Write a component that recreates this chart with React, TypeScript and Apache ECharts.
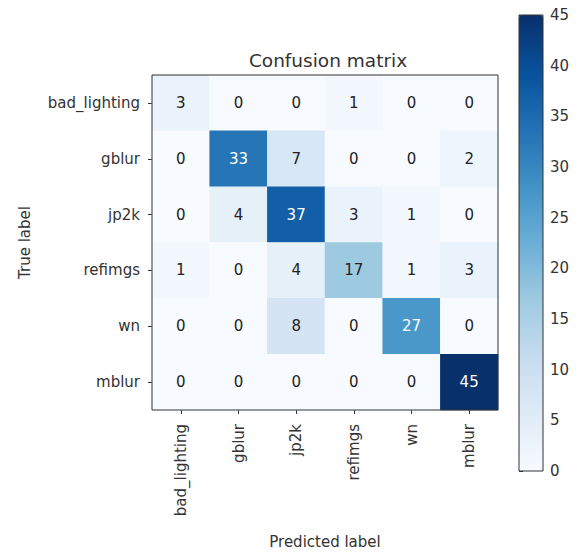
import React, { useEffect, useRef } from "react";
import * as echarts from "echarts";

const classes = ["bad_lighting", "gblur", "jp2k", "refimgs", "wn", "mblur"];
const matrix: number[][] = [
  [3, 0, 0, 1, 0, 0],
  [0, 33, 7, 0, 0, 2],
  [0, 4, 37, 3, 1, 0],
  [1, 0, 4, 17, 1, 3],
  [0, 0, 8, 0, 27, 0],
  [0, 0, 0, 0, 0, 45],
];
const colorbarMin = 0;
const colorbarMax = 45;
const colorbarStep = 5;
const blues = ["#f7fbff", "#deebf7", "#c6dbef", "#9ecae1", "#6baed6", "#4292c6", "#2171b5", "#08519c", "#08306b"];

const FONT = "DejaVu Sans";
const FS = 15;
const TXT = "#333333";

export default function App() {
  const ref = useRef<HTMLDivElement>(null);
  useEffect(() => {
    document.body.style.margin = "0";
    const chart = echarts.init(ref.current!, undefined, { renderer: "svg" });
    const thresh = Math.max(...matrix.flat()) / 2;
    const data: any[] = [];
    matrix.forEach((row, i) =>
      row.forEach((v, j) => {
        data.push({ value: [j, i, v], label: { color: v > thresh ? "#ffffff" : "#222222" } });
      })
    );
    chart.setOption({
      animation: false,
      backgroundColor: "#ffffff",
      textStyle: { fontFamily: FONT },
      title: {
        text: "Confusion matrix",
        left: 323,
        top: 46,
        textAlign: "center",
        textStyle: { fontFamily: FONT, fontSize: 18.5, fontWeight: "normal", color: TXT },
      },
      grid: [
        { left: 152, top: 75, width: 346, height: 346, show: true, borderColor: "#333", borderWidth: 1, backgroundColor: "transparent", z: 10 },
        { left: 519, top: 15, width: 24, height: 456, show: true, borderColor: "#333", borderWidth: 1, backgroundColor: "transparent", z: 10 },
      ],
      xAxis: [
        {
          type: "category",
          gridIndex: 0,
          data: classes,
          position: "bottom",
          name: "Predicted label",
          nameLocation: "middle",
          nameGap: 124,
          nameTextStyle: { fontFamily: FONT, fontSize: FS, color: TXT },
          axisLine: { show: false },
          axisTick: { show: true, alignWithLabel: true, length: 4, lineStyle: { color: "#333" } },
          axisLabel: { rotate: 90, fontFamily: FONT, fontSize: FS, color: TXT, margin: 14 },
          splitLine: { show: false },
        },
        { type: "value", gridIndex: 1, show: false, min: 0, max: 1 },
      ],
      yAxis: [
        {
          type: "category",
          gridIndex: 0,
          data: classes,
          inverse: true,
          name: "True label",
          nameLocation: "middle",
          nameGap: 120,
          nameRotate: 90,
          nameTextStyle: { fontFamily: FONT, fontSize: FS, color: TXT },
          axisLine: { show: false },
          axisTick: { show: true, alignWithLabel: true, length: 4, lineStyle: { color: "#333" } },
          axisLabel: { fontFamily: FONT, fontSize: FS, color: TXT, margin: 12 },
          splitLine: { show: false },
        },
        {
          type: "value",
          gridIndex: 1,
          position: "right",
          min: colorbarMin,
          max: colorbarMax,
          interval: colorbarStep,
          axisLine: { show: false },
          axisTick: { show: true, length: 4, lineStyle: { color: "#333" } },
          axisLabel: { fontFamily: FONT, fontSize: FS, color: TXT, margin: 7 },
          splitLine: { show: false },
        },
      ],
      visualMap: {
        type: "continuous",
        min: colorbarMin,
        max: colorbarMax,
        seriesIndex: 0,
        calculable: false,
        orient: "vertical",
        left: 519,
        top: 15,
        itemWidth: 24,
        itemHeight: 456,
        padding: 0,
        inRange: { color: blues },
        text: null,
        showLabel: false,
      },
      series: [
        {
          type: "heatmap",
          xAxisIndex: 0,
          yAxisIndex: 0,
          data,
          label: { show: true, fontFamily: FONT, fontSize: FS, formatter: (p: any) => String(p.value[2]) },
          itemStyle: { borderWidth: 0 },
          emphasis: { disabled: true },
        },
      ],
    });
    return () => chart.dispose();
  }, []);
  return <div ref={ref} style={{ width: 579, height: 554 }} />;
}
